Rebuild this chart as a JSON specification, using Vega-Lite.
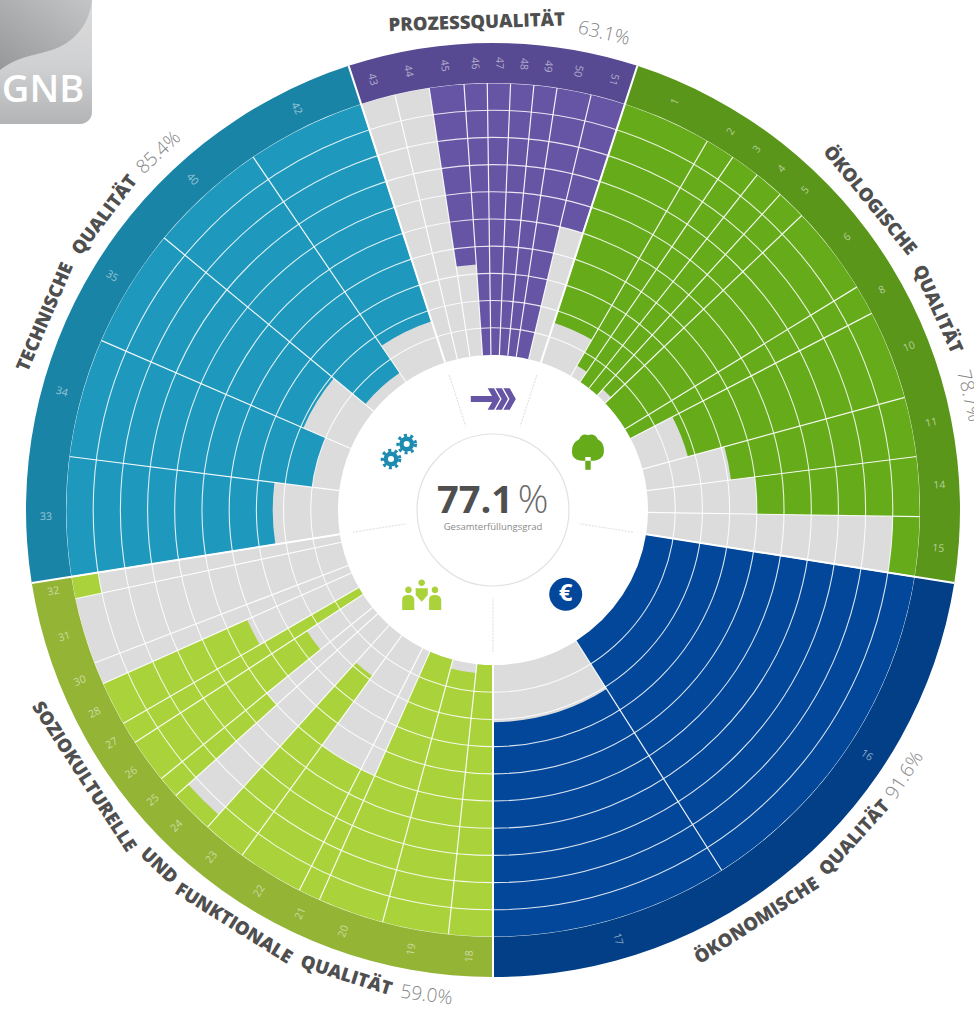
{"$schema":"https://vega.github.io/schema/vega-lite/v6.json","width":962,"height":1006,"autosize":"none","padding":{"left":12,"top":7,"right":0,"bottom":0},"background":"white","view":{"stroke":null},
"datasets":{
"criteria":[
{"id":"1","group":"Ökologisch","start":18,"end":30.15,"score":84.6},
{"id":"2","group":"Ökologisch","start":30.15,"end":34.2,"score":95.6},
{"id":"3","group":"Ökologisch","start":34.2,"end":38.25,"score":100},
{"id":"4","group":"Ökologisch","start":38.25,"end":42.3,"score":100},
{"id":"5","group":"Ökologisch","start":42.3,"end":46.35,"score":97},
{"id":"6","group":"Ökologisch","start":46.35,"end":58.5,"score":100},
{"id":"8","group":"Ökologisch","start":58.5,"end":62.55,"score":100},
{"id":"10","group":"Ökologisch","start":62.55,"end":74.7,"score":82.7},
{"id":"11","group":"Ökologisch","start":74.7,"end":82.8,"score":68.8},
{"id":"14","group":"Ökologisch","start":82.8,"end":90.9,"score":60},
{"id":"15","group":"Ökologisch","start":90.9,"end":99,"score":10},
{"id":"16","group":"Ökonomisch","start":99,"end":147.6,"score":100},
{"id":"17","group":"Ökonomisch","start":147.6,"end":180,"score":79},
{"id":"18","group":"Soziokulturell","start":180,"end":186,"score":100},
{"id":"19","group":"Soziokulturell","start":186,"end":195,"score":96.7},
{"id":"20","group":"Soziokulturell","start":195,"end":204,"score":100},
{"id":"21","group":"Soziokulturell","start":204,"end":207,"score":50},
{"id":"22","group":"Soziokulturell","start":207,"end":216,"score":50},
{"id":"23","group":"Soziokulturell","start":216,"end":222,"score":81.6},
{"id":"24","group":"Soziokulturell","start":222,"end":228,"score":6.2},
{"id":"25","group":"Soziokulturell","start":228,"end":231,"score":50},
{"id":"26","group":"Soziokulturell","start":231,"end":237,"score":75.4},
{"id":"27","group":"Soziokulturell","start":237,"end":240,"score":100},
{"id":"28","group":"Soziokulturell","start":240,"end":246,"score":58},
{"id":"30","group":"Soziokulturell","start":246,"end":249,"score":0},
{"id":"31","group":"Soziokulturell","start":249,"end":258,"score":0},
{"id":"32","group":"Soziokulturell","start":258,"end":261,"score":10},
{"id":"33","group":"Technisch","start":261,"end":277.2,"score":76},
{"id":"34","group":"Technisch","start":277.2,"end":293.4,"score":90},
{"id":"35","group":"Technisch","start":293.4,"end":309.6,"score":81},
{"id":"40","group":"Technisch","start":309.6,"end":325.8,"score":96},
{"id":"42","group":"Technisch","start":325.8,"end":342,"score":84},
{"id":"43","group":"Prozess","start":-18,"end":-13.3,"score":0},
{"id":"44","group":"Prozess","start":-13.3,"end":-8.6,"score":0},
{"id":"45","group":"Prozess","start":-8.6,"end":-3.9,"score":66.5},
{"id":"46","group":"Prozess","start":-3.9,"end":-0.77,"score":100},
{"id":"47","group":"Prozess","start":-0.77,"end":2.36,"score":100},
{"id":"48","group":"Prozess","start":2.36,"end":5.5,"score":100},
{"id":"49","group":"Prozess","start":5.5,"end":8.63,"score":100},
{"id":"50","group":"Prozess","start":8.63,"end":13.3,"score":100},
{"id":"51","group":"Prozess","start":13.3,"end":18,"score":50}
],
"groups":[
{"group":"Prozess Band","start":-18,"end":18},
{"group":"Ökologisch Band","start":18,"end":99},
{"group":"Ökonomisch Band","start":99,"end":180},
{"group":"Soziokulturell Band","start":180,"end":261},
{"group":"Technisch Band","start":261,"end":342}
],
"rings":[{"level":0,"from":0,"to":360},{"level":10,"from":0,"to":360},{"level":20,"from":0,"to":360},{"level":30,"from":0,"to":360},{"level":40,"from":0,"to":360},{"level":50,"from":0,"to":360},{"level":60,"from":0,"to":360},{"level":70,"from":0,"to":360},{"level":80,"from":0,"to":360},{"level":90,"from":0,"to":360}],
"names":[
{"label":"PROZESSQUALITÄT","theta":-1.9},
{"label":"ÖKOLOGISCHE","theta":50.6},
{"label":"QUALITÄT","theta":65.7},
{"label":"ÖKONOMISCHE","theta":147.3},
{"label":"QUALITÄT","theta":132.2},
{"label":"SOZIOKULTURELLE","theta":236.9},
{"label":"UND","theta":223.2},
{"label":"FUNKTIONALE","theta":212.1},
{"label":"QUALITÄT","theta":197.5},
{"label":"TECHNISCHE","theta":293.3},
{"label":"QUALITÄT","theta":307.2}
],
"shares":[
{"label":"63.1%","theta":13.1},
{"label":"78.7%","theta":76.5},
{"label":"91.6%","theta":122.8},
{"label":"59.0%","theta":187.8},
{"label":"85.4%","theta":316.9}
]
},
"layer":[
{"data":{"name":"criteria"},"mark":{"type":"arc","fill":"#dcdcdc"},"encoding":{
"theta":{"field":"start","type":"quantitative","stack":false,"scale":{"type":"linear","domain":[0,360],"range":[0,6.283185]}},"theta2":{"field":"end"},
"radius":{"datum":100,"scale":{"type":"linear","domain":[157,-14.7],"range":[0,467],"zero":false,"nice":false}},"radius2":{"datum":0}}},
{"data":{"name":"criteria"},"mark":{"type":"arc"},"encoding":{
"theta":{"field":"start","type":"quantitative","stack":false,"scale":{"type":"linear","domain":[0,360],"range":[0,6.283185]}},"theta2":{"field":"end"},
"radius":{"field":"score","type":"quantitative","scale":{"type":"linear","domain":[157,-14.7],"range":[0,467],"zero":false,"nice":false}},"radius2":{"datum":0},
"fill":{"field":"group","type":"nominal","legend":null,"scale":{"domain":["Prozess","Ökologisch","Ökonomisch","Soziokulturell","Technisch","Prozess Band","Ökologisch Band","Ökonomisch Band","Soziokulturell Band","Technisch Band"],"range":["#6654a5","#66ab1a","#03479a","#aad23b","#1e98bd","#574a92","#5a9619","#023f86","#93b435","#1a84a6"]}}}},
{"data":{"name":"rings"},"mark":{"type":"arc","fill":null,"stroke":"#ffffff","strokeWidth":1.1,"strokeOpacity":0.85},"encoding":{
"theta":{"field":"from","type":"quantitative","stack":false,"scale":{"type":"linear","domain":[0,360],"range":[0,6.283185]}},"theta2":{"field":"to"},
"radius":{"field":"level","type":"quantitative","scale":{"type":"linear","domain":[157,-14.7],"range":[0,467],"zero":false,"nice":false}},"radius2":{"field":"level"}}},
{"data":{"name":"criteria"},"mark":{"type":"arc","fill":null,"stroke":"#ffffff","strokeWidth":1.2,"strokeOpacity":0.9},"encoding":{
"theta":{"field":"start","type":"quantitative","stack":false,"scale":{"type":"linear","domain":[0,360],"range":[0,6.283185]}},"theta2":{"field":"start"},
"radius":{"datum":100,"scale":{"type":"linear","domain":[157,-14.7],"range":[0,467],"zero":false,"nice":false}},"radius2":{"datum":0}}},
{"data":{"name":"groups"},"mark":{"type":"arc"},"encoding":{
"theta":{"field":"start","type":"quantitative","stack":false,"scale":{"type":"linear","domain":[0,360],"range":[0,6.283185]}},"theta2":{"field":"end"},
"radius":{"datum":0,"scale":{"type":"linear","domain":[157,-14.7],"range":[0,467],"zero":false,"nice":false}},"radius2":{"datum":-14.7},
"fill":{"field":"group","type":"nominal","legend":null,"scale":{"domain":["Prozess","Ökologisch","Ökonomisch","Soziokulturell","Technisch","Prozess Band","Ökologisch Band","Ökonomisch Band","Soziokulturell Band","Technisch Band"],"range":["#6654a5","#66ab1a","#03479a","#aad23b","#1e98bd","#574a92","#5a9619","#023f86","#93b435","#1a84a6"]}}}},
{"data":{"name":"groups"},"mark":{"type":"arc","fill":null,"stroke":"#ffffff","strokeWidth":2},"encoding":{
"theta":{"field":"start","type":"quantitative","stack":false,"scale":{"type":"linear","domain":[0,360],"range":[0,6.283185]}},"theta2":{"field":"start"},
"radius":{"datum":100,"scale":{"type":"linear","domain":[157,-14.7],"range":[0,467],"zero":false,"nice":false}},"radius2":{"datum":-14.7}}},
{"data":{"name":"groups"},"mark":{"type":"arc","fill":null,"stroke":"#e3e3e3","strokeWidth":1.3,"strokeDash":[1,2.3]},"encoding":{
"theta":{"field":"start","type":"quantitative","stack":false,"scale":{"type":"linear","domain":[0,360],"range":[0,6.283185]}},"theta2":{"field":"start"},
"radius":{"datum":124.6,"scale":{"type":"linear","domain":[157,-14.7],"range":[0,467],"zero":false,"nice":false}},"radius2":{"datum":104.8}}},
{"data":{"values":[{"from":0,"to":360}]},"mark":{"type":"arc","fill":null,"stroke":"#e2e2e2","strokeWidth":1.2},"encoding":{
"theta":{"field":"from","type":"quantitative","stack":false,"scale":{"type":"linear","domain":[0,360],"range":[0,6.283185]}},"theta2":{"field":"to"},
"radius":{"datum":129.06,"scale":{"type":"linear","domain":[157,-14.7],"range":[0,467],"zero":false,"nice":false}},"radius2":{"datum":129.06}}},
{"data":{"name":"criteria"},"transform":[{"calculate":"(datum.start+datum.end)/2","as":"mid"},{"calculate":"datum.group=='Prozess'||datum.mid>=180?datum.mid+90:datum.mid-90","as":"turn"}],"mark":{"type":"text","font":"Open Sans","fontSize":10.5,"fill":"#ffffff","fillOpacity":0.55,"align":"center","baseline":"middle"},"encoding":{
"theta":{"field":"mid","type":"quantitative","stack":false,"scale":{"type":"linear","domain":[0,360],"range":[0,6.283185]}},
"radius":{"datum":-7.35,"scale":{"type":"linear","domain":[157,-14.7],"range":[0,467],"zero":false,"nice":false}},
"angle":{"field":"turn","type":"quantitative","scale":null},"text":{"field":"id"}}},
{"data":{"name":"names"},"transform":[{"calculate":"datum.theta>99&&datum.theta<261?datum.theta-180:datum.theta","as":"turn"}],"mark":{"type":"text","font":"Open Sans","fontWeight":800,"fontSize":18.5,"fill":"#4f4f4f","align":"center","baseline":"middle"},"encoding":{
"theta":{"field":"theta","type":"quantitative","stack":false,"scale":{"type":"linear","domain":[0,360],"range":[0,6.283185]}},
"radius":{"datum":-22.4,"scale":{"type":"linear","domain":[157,-14.7],"range":[0,467],"zero":false,"nice":false}},
"angle":{"field":"turn","type":"quantitative","scale":null},"text":{"field":"label"}}},
{"data":{"name":"shares"},"transform":[{"calculate":"datum.theta>99&&datum.theta<261?datum.theta-180:datum.theta","as":"turn"}],"mark":{"type":"text","font":"Open Sans","fontWeight":300,"fontSize":19,"fill":"#858585","align":"center","baseline":"middle"},"encoding":{
"theta":{"field":"theta","type":"quantitative","stack":false,"scale":{"type":"linear","domain":[0,360],"range":[0,6.283185]}},
"radius":{"datum":-23,"scale":{"type":"linear","domain":[157,-14.7],"range":[0,467],"zero":false,"nice":false}},
"angle":{"field":"turn","type":"quantitative","scale":null},"text":{"field":"label"}}},
{"data":{"values":[{"label":"77.1","x":475,"y":502}]},"mark":{"type":"text","font":"Open Sans","fontWeight":700,"fontSize":38,"fill":"#4f4f4f","align":"center","baseline":"middle"},"encoding":{
"x":{"field":"x","type":"quantitative","axis":null,"scale":{"domain":[12,974],"range":[0,962],"zero":false,"nice":false}},
"y":{"field":"y","type":"quantitative","axis":null,"scale":{"domain":[7,1013],"range":[0,1006],"zero":false,"nice":false}},"text":{"field":"label"}}},
{"data":{"values":[{"label":"%","x":533,"y":502}]},"mark":{"type":"text","font":"Open Sans","fontWeight":300,"fontSize":38,"fill":"#6a6a6a","align":"center","baseline":"middle"},"encoding":{
"x":{"field":"x","type":"quantitative","axis":null,"scale":{"domain":[12,974],"range":[0,962],"zero":false,"nice":false}},
"y":{"field":"y","type":"quantitative","axis":null,"scale":{"domain":[7,1013],"range":[0,1006],"zero":false,"nice":false}},"text":{"field":"label"}}},
{"data":{"values":[{"label":"Gesamterfüllungsgrad","x":493,"y":527}]},"mark":{"type":"text","font":"Open Sans","fontSize":9.5,"fill":"#8a8a8a","align":"center","baseline":"middle"},"encoding":{
"x":{"field":"x","type":"quantitative","axis":null,"scale":{"domain":[12,974],"range":[0,962],"zero":false,"nice":false}},
"y":{"field":"y","type":"quantitative","axis":null,"scale":{"domain":[7,1013],"range":[0,1006],"zero":false,"nice":false}},"text":{"field":"label"}}},
{"data":{"values":[{"icon":"Prozess","x":493.3,"y":399}]},"mark":{"type":"point","filled":true,"opacity":1,"fill":"#6654a5","size":2025,"shape":"M-1,-0.13 L0.05,-0.13 L0.05,0.13 L-1,0.13 Z M-0.25,-0.48 L0.03,-0.48 L0.3,0 L0.03,0.48 L-0.25,0.48 L0.02,0 Z M0.1,-0.48 L0.38,-0.48 L0.65,0 L0.38,0.48 L0.1,0.48 L0.37,0 Z M0.45,-0.48 L0.73,-0.48 L1,0 L0.73,0.48 L0.45,0.48 L0.72,0 Z"},"encoding":{
"x":{"field":"x","type":"quantitative","axis":null,"scale":{"domain":[12,974],"range":[0,962],"zero":false,"nice":false}},
"y":{"field":"y","type":"quantitative","axis":null,"scale":{"domain":[7,1013],"range":[0,1006],"zero":false,"nice":false}}}},
{"data":{"values":[{"icon":"Technisch","x":406.7,"y":444},{"icon":"Technisch","x":391,"y":459}]},"mark":{"type":"point","filled":false,"opacity":1,"shape":"circle","stroke":"#1e8cb0","strokeWidth":3.4,"strokeDash":[3,3.3],"size":300},"encoding":{
"x":{"field":"x","type":"quantitative","axis":null,"scale":{"domain":[12,974],"range":[0,962],"zero":false,"nice":false}},
"y":{"field":"y","type":"quantitative","axis":null,"scale":{"domain":[7,1013],"range":[0,1006],"zero":false,"nice":false}}}},
{"data":{"values":[{"icon":"Technisch","x":406.7,"y":444},{"icon":"Technisch","x":391,"y":459}]},"mark":{"type":"point","filled":false,"opacity":1,"shape":"circle","stroke":"#1e8cb0","strokeWidth":4.4,"size":110},"encoding":{
"x":{"field":"x","type":"quantitative","axis":null,"scale":{"domain":[12,974],"range":[0,962],"zero":false,"nice":false}},
"y":{"field":"y","type":"quantitative","axis":null,"scale":{"domain":[7,1013],"range":[0,1006],"zero":false,"nice":false}}}},
{"data":{"values":[{"icon":"Ökologisch","x":588,"y":451.7}]},"mark":{"type":"point","filled":true,"opacity":1,"fill":"#66ab1a","size":1296,"shape":"M-0.15,0.3 L-0.15,1 L0.15,1 L0.15,0.3 Z M-0.3,0.5 C-0.7,0.5 -0.95,0.25 -0.88,-0.1 C-0.88,-0.4 -0.7,-0.6 -0.5,-0.68 C-0.4,-0.95 -0.2,-1 0,-0.92 C0.2,-1 0.45,-0.95 0.55,-0.68 C0.75,-0.6 0.92,-0.35 0.88,0 C0.88,0.3 0.6,0.5 0.3,0.5 Z"},"encoding":{
"x":{"field":"x","type":"quantitative","axis":null,"scale":{"domain":[12,974],"range":[0,962],"zero":false,"nice":false}},
"y":{"field":"y","type":"quantitative","axis":null,"scale":{"domain":[7,1013],"range":[0,1006],"zero":false,"nice":false}}}},
{"data":{"values":[{"icon":"Soziokulturell","x":421.7,"y":595}]},"mark":{"type":"point","filled":true,"opacity":1,"fill":"#aad23b","size":1521,"shape":"M-0.17,-0.63 A0.17,0.17 0 1 0 0.17,-0.63 A0.17,0.17 0 1 0 -0.17,-0.63 Z M-0.85,-0.26 A0.17,0.17 0 1 0 -0.51,-0.26 A0.17,0.17 0 1 0 -0.85,-0.26 Z M0.51,-0.26 A0.17,0.17 0 1 0 0.85,-0.26 A0.17,0.17 0 1 0 0.51,-0.26 Z M-0.31,-0.35 L0.31,-0.35 L0.31,0 L0,0.34 L-0.31,0 Z M-1,0.77 L-1,0.25 C-1,0.05 -0.85,0 -0.68,0 C-0.5,0 -0.38,0.1 -0.38,0.25 L-0.38,0.77 Z M0.38,0.77 L0.38,0.25 C0.38,0.05 0.5,0 0.68,0 C0.85,0 1,0.1 1,0.25 L1,0.77 Z"},"encoding":{
"x":{"field":"x","type":"quantitative","axis":null,"scale":{"domain":[12,974],"range":[0,962],"zero":false,"nice":false}},
"y":{"field":"y","type":"quantitative","axis":null,"scale":{"domain":[7,1013],"range":[0,1006],"zero":false,"nice":false}}}},
{"data":{"values":[{"icon":"Ökonomisch","x":565.7,"y":594.3}]},"mark":{"type":"point","filled":true,"opacity":1,"fill":"#03479a","shape":"circle","size":1089},"encoding":{
"x":{"field":"x","type":"quantitative","axis":null,"scale":{"domain":[12,974],"range":[0,962],"zero":false,"nice":false}},
"y":{"field":"y","type":"quantitative","axis":null,"scale":{"domain":[7,1013],"range":[0,1006],"zero":false,"nice":false}}}},
{"data":{"values":[{"label":"€","x":565.7,"y":594.3}]},"mark":{"type":"text","font":"Open Sans","fontWeight":700,"fontSize":24,"fill":"#ffffff","align":"center","baseline":"middle"},"encoding":{
"x":{"field":"x","type":"quantitative","axis":null,"scale":{"domain":[12,974],"range":[0,962],"zero":false,"nice":false}},
"y":{"field":"y","type":"quantitative","axis":null,"scale":{"domain":[7,1013],"range":[0,1006],"zero":false,"nice":false}},"text":{"field":"label"}}},
{"data":{"values":[{"x":0,"x2":92,"y":0,"y2":124}]},"mark":{"type":"rect","cornerRadiusBottomRight":12,"fill":{"gradient":"linear","x1":0,"y1":0,"x2":0,"y2":1,"stops":[{"offset":0,"color":"#dcdcdd"},{"offset":0.55,"color":"#cfd0d1"},{"offset":1,"color":"#b3b4b6"}]}},"encoding":{
"x":{"field":"x","type":"quantitative","axis":null,"scale":{"domain":[12,974],"range":[0,962],"zero":false,"nice":false}},"x2":{"field":"x2"},
"y":{"field":"y","type":"quantitative","axis":null,"scale":{"domain":[7,1013],"range":[0,1006],"zero":false,"nice":false}},"y2":{"field":"y2"}}},
{"data":{"values":[{"x":46,"y":35}]},"mark":{"type":"point","filled":true,"opacity":1,"size":8464,"fill":{"gradient":"linear","x1":1,"y1":0,"x2":0,"y2":1,"stops":[{"offset":0,"color":"#c4c5c6"},{"offset":1,"color":"#96989a"}]},"shape":"M-1,-0.76 L1,-0.76 C0.95,-0.3 0.7,0.1 0.2,0.3 C-0.2,0.45 -0.6,0.45 -1,0.76 Z"},"encoding":{
"x":{"field":"x","type":"quantitative","axis":null,"scale":{"domain":[12,974],"range":[0,962],"zero":false,"nice":false}},
"y":{"field":"y","type":"quantitative","axis":null,"scale":{"domain":[7,1013],"range":[0,1006],"zero":false,"nice":false}}}},
{"data":{"values":[{"label":"GNB","x":43,"y":91}]},"mark":{"type":"text","font":"Open Sans","fontWeight":600,"fontSize":38,"fill":"#ffffff","align":"center","baseline":"middle"},"encoding":{
"x":{"field":"x","type":"quantitative","axis":null,"scale":{"domain":[12,974],"range":[0,962],"zero":false,"nice":false}},
"y":{"field":"y","type":"quantitative","axis":null,"scale":{"domain":[7,1013],"range":[0,1006],"zero":false,"nice":false}},"text":{"field":"label"}}}
]}
